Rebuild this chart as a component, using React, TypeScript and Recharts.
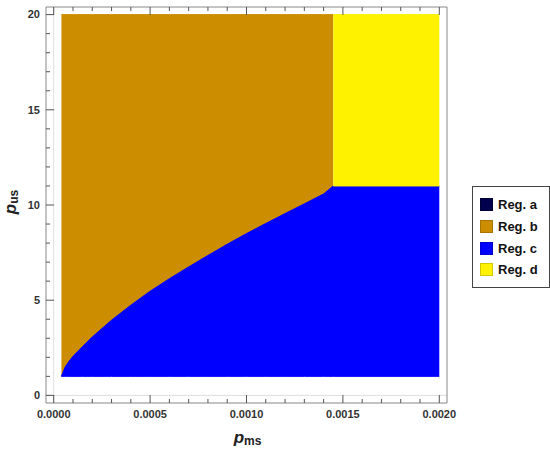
import { ComposedChart, Area, XAxis, YAxis, Legend, ReferenceLine } from 'recharts'

const xValues = [
  0.00004, 0.00006, 0.00008, 0.0001, 0.00015, 0.0002, 0.0003, 0.0004, 0.0005, 0.0006,
  0.0007, 0.0008, 0.0009, 0.001, 0.0011, 0.0012, 0.0013, 0.0014, 0.00145, 0.002,
]
// upper edge of Reg. c (= lower edge of Reg. b left of the split)
const boundary = [
  1.0, 1.5, 1.8, 2.05, 2.57, 3.07, 3.95, 4.74, 5.47, 6.13,
  6.75, 7.35, 7.94, 8.5, 9.03, 9.55, 10.06, 10.58, 11.0, 11.0,
]
const xSplit = 0.00145
const ySplit = 11
const yMin = 1
const yMax = 20

const regionNames = ['Reg. a', 'Reg. b', 'Reg. c', 'Reg. d']

const xMajor = [0, 0.0005, 0.001, 0.0015, 0.002]
const xTicks = [
  0, 0.0001, 0.0002, 0.0003, 0.0004, 0.0005, 0.0006, 0.0007, 0.0008, 0.0009, 0.001,
  0.0011, 0.0012, 0.0013, 0.0014, 0.0015, 0.0016, 0.0017, 0.0018, 0.0019, 0.002,
]
const yMajor = [0, 5, 10, 15, 20]
const yTicks = [0, 1, 2, 3, 4, 5, 6, 7, 8, 9, 10, 11, 12, 13, 14, 15, 16, 17, 18, 19, 20]

const fills: Record<string, string> = {
  'Reg. a': '#00004d',
  'Reg. b': '#cc8e00',
  'Reg. c': '#0000ff',
  'Reg. d': '#fff200',
}
const borders: Record<string, string> = {
  'Reg. a': '#000033',
  'Reg. b': '#a87500',
  'Reg. c': '#0000cc',
  'Reg. d': '#d4c800',
}

const data = xValues.map((x, i) => ({
  x,
  a: null,
  b: x <= xSplit + 1e-9 ? [boundary[i], yMax] : null,
  c: [yMin, boundary[i]],
  d: x >= xSplit - 1e-9 ? [ySplit, yMax] : null,
}))

const isMajor = (v: number, majors: number[]) => majors.some((m) => Math.abs(m - v) < 1e-9)

const tickColor = '#555'
const labelFont = "'Liberation Sans', Arial, sans-serif"

function FrameTick(props: any) {
  const { x, y, payload, side } = props
  const v = payload.value
  const majors = side === 'bottom' || side === 'top' ? xMajor : yMajor
  const major = isMajor(v, majors)
  const len = major ? 8 : 4
  let line
  if (side === 'bottom') line = <line x1={x} y1={y} x2={x} y2={y - len} stroke={tickColor} />
  else if (side === 'top') line = <line x1={x} y1={y} x2={x} y2={y + len} stroke={tickColor} />
  else if (side === 'left') line = <line x1={x} y1={y} x2={x + len} y2={y} stroke={tickColor} />
  else line = <line x1={x} y1={y} x2={x - len} y2={y} stroke={tickColor} />
  let text = null
  if (major && side === 'bottom') {
    text = (
      <text x={x} y={y + 15} textAnchor="middle" fontSize={11} fontWeight="bold" fill="#333" fontFamily={labelFont}>
        {v.toFixed(4)}
      </text>
    )
  }
  if (major && side === 'left') {
    text = (
      <text x={x - 6} y={y} dy="0.35em" textAnchor="end" fontSize={11} fontWeight="bold" fill="#333" fontFamily={labelFont}>
        {v}
      </text>
    )
  }
  return (
    <g>
      {line}
      {text}
    </g>
  )
}

function XTitle(props: any) {
  const { viewBox } = props
  const cx = viewBox.x + viewBox.width / 2 + 1
  return (
    <text x={cx} y={443} textAnchor="middle" fill="#222" fontFamily={labelFont} fontWeight="bold">
      <tspan fontSize={17} fontStyle="italic">p</tspan>
      <tspan fontSize={12} dy={2}>ms</tspan>
    </text>
  )
}

function YTitle() {
  const cx = 16
  const cy = 202
  return (
    <text x={cx} y={cy} transform={`rotate(-90, ${cx}, ${cy})`} textAnchor="middle" fill="#222" fontFamily={labelFont} fontWeight="bold">
      <tspan fontSize={17} fontStyle="italic">p</tspan>
      <tspan fontSize={12} dy={2}>us</tspan>
    </text>
  )
}

function RegionLegend(props: any) {
  const { payload } = props
  return (
    <div
      style={{
        border: '1px solid #444',
        background: '#fff',
        padding: '7px 11px 6px 7px',
        fontFamily: labelFont,
        fontWeight: 'bold',
        fontSize: 13,
        color: '#111',
      }}
    >
      {payload.map((item: any) => (
        <div key={item.value} style={{ display: 'flex', alignItems: 'center', height: 21.7 }}>
          <span
            style={{
              width: 11,
              height: 11,
              background: fills[item.value],
              border: `1px solid ${borders[item.value]}`,
              marginRight: 5,
              display: 'inline-block',
            }}
          />
          <span>{item.value}</span>
        </div>
      ))}
    </div>
  )
}

export default function App() {
  return (
    <div style={{ position: 'absolute', left: 0, top: 0 }}>
      <ComposedChart width={550} height={454} data={data} margin={{ top: 6, right: 102, bottom: 0, left: 0 }}>
        <XAxis
          xAxisId="bottom"
          dataKey="x"
          type="number"
          domain={[-0.00004, 0.00204]}
          ticks={xTicks}
          interval={0}
          height={51}
          tickSize={0}
          tickMargin={0}
          tickLine={false}
          stroke="#888"
          tick={<FrameTick side="bottom" />}
          label={<XTitle />}
        />
        <XAxis
          xAxisId="top"
          orientation="top"
          dataKey="x"
          type="number"
          domain={[-0.00004, 0.00204]}
          ticks={xTicks}
          interval={0}
          height={1}
          tickSize={0}
          tickMargin={0}
          tickLine={false}
          stroke="#888"
          tick={<FrameTick side="top" />}
        />
        <YAxis
          yAxisId="left"
          type="number"
          domain={[-0.4, 20.4]}
          ticks={yTicks}
          interval={0}
          width={46}
          tickSize={0}
          tickMargin={0}
          tickLine={false}
          stroke="#888"
          tick={<FrameTick side="left" />}
          label={<YTitle />}
        />
        <YAxis
          yAxisId="right"
          orientation="right"
          type="number"
          domain={[-0.4, 20.4]}
          ticks={yTicks}
          interval={0}
          width={1}
          tickSize={0}
          tickMargin={0}
          tickLine={false}
          stroke="#888"
          tick={<FrameTick side="right" />}
        />
        <ReferenceLine xAxisId="bottom" yAxisId="left" x={0} stroke="#dddddd" />
        <ReferenceLine xAxisId="bottom" yAxisId="left" y={0} stroke="#dddddd" />
        {['a', 'b', 'c', 'd'].map((key, i) => (
          <Area
            key={key}
            xAxisId="bottom"
            yAxisId="left"
            type="linear"
            dataKey={key}
            name={regionNames[i]}
            fill={fills[regionNames[i]]}
            fillOpacity={1}
            stroke={fills[regionNames[i]]}
            strokeWidth={1}
            isAnimationActive={false}
          />
        ))}
        <Legend
          layout="vertical"
          verticalAlign="middle"
          align="center"
          content={<RegionLegend />}
          wrapperStyle={{ position: 'absolute', left: 472, top: 186, width: 'auto' }}
        />
      </ComposedChart>
    </div>
  )
}
